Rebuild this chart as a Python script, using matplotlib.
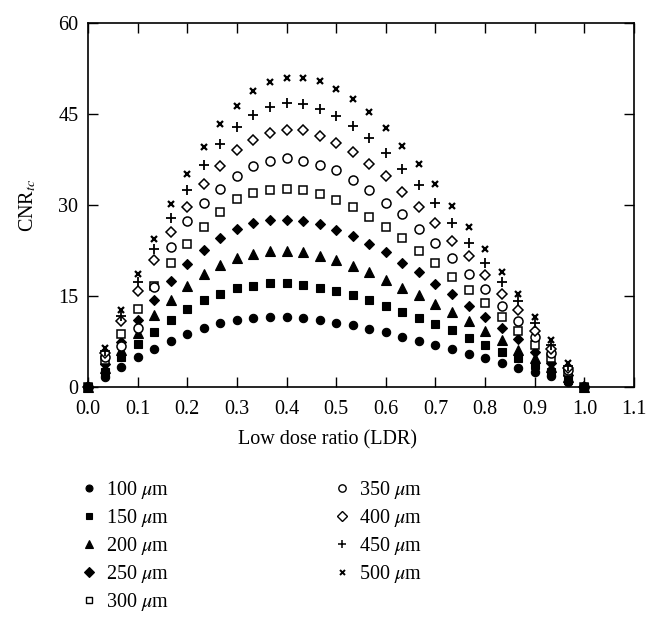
import numpy as np
import matplotlib
matplotlib.use("Agg")
import matplotlib.pyplot as plt
from matplotlib.lines import Line2D

plt.rcParams['font.family'] = ['Liberation Serif', 'DejaVu Serif']
plt.rcParams['mathtext.fontset'] = 'stix'

# Low dose ratio values (k/30)
ldr = [k / 30 for k in range(31)]

cnr_100 = [0, 1.7, 3.3, 4.9, 6.3, 7.6, 8.8, 9.7, 10.5, 11.0, 11.4, 11.6, 11.6, 11.3, 11.0, 10.6,
           10.2, 9.6, 9.0, 8.3, 7.6, 6.9, 6.2, 5.4, 4.7, 3.9, 3.2, 2.5, 1.8, 0.8, 0]
cnr_150 = [0, 2.4, 5.0, 7.1, 9.1, 11.1, 12.9, 14.3, 15.4, 16.3, 16.7, 17.1, 17.1, 16.8, 16.4, 15.9,
           15.1, 14.3, 13.4, 12.4, 11.4, 10.4, 9.4, 8.0, 7.0, 5.8, 4.7, 3.6, 2.5, 1.2, 0]
cnr_200 = [0, 3.1, 6.1, 8.9, 11.9, 14.4, 16.6, 18.6, 20.1, 21.2, 22.0, 22.4, 22.4, 22.2, 21.6, 20.9,
           19.9, 19.0, 17.7, 16.4, 15.2, 13.7, 12.4, 10.8, 9.2, 7.7, 6.1, 4.7, 3.3, 1.6, 0]
cnr_250 = [0, 3.8, 7.5, 11.0, 14.4, 17.5, 20.2, 22.6, 24.5, 26.0, 27.0, 27.5, 27.6, 27.3, 26.8, 25.9,
           24.9, 23.6, 22.2, 20.5, 18.9, 17.0, 15.3, 13.4, 11.5, 9.7, 7.9, 5.8, 4.0, 2.0, 0]
cnr_300 = [0, 4.5, 8.7, 12.9, 16.6, 20.4, 23.6, 26.4, 28.8, 31.0, 31.9, 32.5, 32.7, 32.4, 31.8, 30.8,
           29.7, 28.1, 26.3, 24.5, 22.5, 20.4, 18.2, 16.0, 13.9, 11.6, 9.3, 7.0, 4.8, 2.4, 0]
cnr_350 = [0, 5.0, 6.8, 9.8, 16.5, 23.0, 27.4, 30.4, 32.6, 34.8, 36.4, 37.3, 37.7, 37.3, 36.6, 35.8,
           34.1, 32.4, 30.4, 28.5, 26.0, 23.8, 21.2, 18.7, 16.1, 13.4, 10.9, 8.2, 5.6, 2.8, 0]
cnr_400 = [0, 5.6, 10.8, 15.9, 20.9, 25.5, 29.7, 33.5, 36.5, 39.0, 40.7, 41.8, 42.4, 42.3, 41.4, 40.3,
           38.7, 36.8, 34.7, 32.2, 29.7, 27.0, 24.1, 21.6, 18.5, 15.4, 12.7, 9.3, 6.2, 3.1, 0]
cnr_450 = [0, 6.0, 11.7, 17.3, 22.7, 27.9, 32.5, 36.6, 40.0, 42.8, 44.8, 46.1, 46.8, 46.7, 45.9, 44.7,
           43.0, 41.0, 38.6, 36.0, 33.3, 30.3, 27.0, 23.8, 20.5, 17.3, 14.1, 10.5, 6.9, 3.5, 0]
cnr_500 = [0, 6.5, 12.7, 18.6, 24.4, 30.1, 35.1, 39.5, 43.3, 46.3, 48.8, 50.3, 51.0, 51.0, 50.5, 49.2,
           47.5, 45.3, 42.7, 39.8, 36.8, 33.4, 29.9, 26.4, 22.7, 19.0, 15.3, 11.5, 7.7, 3.9, 0]

labels = ['100', '150', '200', '250', '300', '350', '400', '450', '500']
series = [cnr_100, cnr_150, cnr_200, cnr_250, cnr_300, cnr_350, cnr_400, cnr_450, cnr_500]

x_ticks = [0.0, 0.1, 0.2, 0.3, 0.4, 0.5, 0.6, 0.7, 0.8, 0.9, 1.0, 1.1]
y_ticks = [0, 15, 30, 45, 60]

styles = [
    dict(marker='o', mfc='black', mec='black', ms=6.0, mew=0.8),
    dict(marker='s', mfc='black', mec='black', ms=6.0, mew=0.8),
    dict(marker='^', mfc='black', mec='black', ms=6.5, mew=0.8),
    dict(marker='D', mfc='black', mec='black', ms=5.5, mew=0.8),
    dict(marker='s', mfc='white', mec='black', ms=6.0, mew=1.1),
    dict(marker='o', mfc='white', mec='black', ms=6.5, mew=1.1),
    dict(marker='D', mfc='white', mec='black', ms=5.5, mew=1.1),
    dict(marker='+', mfc='black', mec='black', ms=7.0, mew=1.3),
    dict(marker='x', mfc='black', mec='black', ms=4.0, mew=1.6),
]
leg_ms = [5.0, 5.0, 5.5, 4.6, 5.0, 5.3, 4.6, 5.5, 3.6]
leg_mew = [0.8, 0.8, 0.8, 0.8, 1.0, 1.0, 1.0, 1.1, 1.4]

FS = 14.5

fig = plt.figure(figsize=(6.58, 6.23), dpi=100)
ax = fig.add_axes([88 / 658, 1 - 387 / 623, (634 - 88) / 658, (387 - 23) / 623])

handles = []
for i, (lab, ys, st) in enumerate(zip(labels, series, styles)):
    z = 10 if lab == '150' else 3
    ax.plot(ldr, ys, linestyle='none', clip_on=False, zorder=z, **st)
    hs = dict(st)
    hs['ms'] = leg_ms[i]
    hs['mew'] = leg_mew[i]
    handles.append(Line2D([], [], linestyle='none', **hs))

ax.set_xlim(0, 1.1)
ax.set_ylim(0, 60)
ax.set_xticks(x_ticks)
ax.set_xticklabels([f'{v:.1f}' for v in x_ticks])
ax.set_yticks(y_ticks)
ax.set_yticklabels([str(v) for v in y_ticks])
ax.tick_params(direction='in', length=7, width=1.0, top=True, right=True,
               labelsize=FS, colors='black')
ax.tick_params(axis='x', pad=9)
ax.tick_params(axis='y', pad=7)
for sp in ax.spines.values():
    sp.set_linewidth(1.2)

ax.set_xlabel('Low dose ratio (LDR)', fontsize=FS, labelpad=11)
ax.xaxis.set_label_coords((328 - 88) / 546, -0.12)
ax.set_ylabel(r'CNR$_{tc}$', fontsize=FS, labelpad=14)

leg_labels = [rf'{v} $\mu$m' for v in labels]
common = dict(loc='upper left', frameon=False, fontsize=FS, handlelength=1.0,
              handletextpad=0.35, labelspacing=0.3, borderaxespad=0, borderpad=0)
fig.legend(handles[:5], leg_labels[:5], bbox_to_anchor=(79 / 658, 1 - 479 / 623), **common)
fig.legend(handles[5:], leg_labels[5:], bbox_to_anchor=(332 / 658, 1 - 479 / 623), **common)

fig.savefig('out.png', dpi=100)
